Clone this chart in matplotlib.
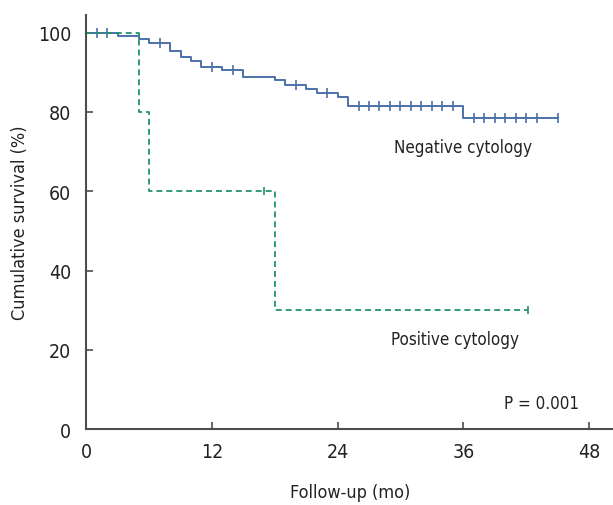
import numpy as np
import matplotlib
matplotlib.use("Agg")
import matplotlib.pyplot as plt
from matplotlib import font_manager

# ---- data ----
neg_times = [0, 3, 5, 6, 8, 9, 10, 11, 13, 15, 18, 19, 21, 22, 24, 25, 36, 45]
neg_surv = [100, 99.2, 98.5, 97.5, 95.3, 93.9, 92.9, 91.4, 90.6, 88.9, 88.1,
            86.8, 85.8, 84.8, 83.8, 81.5, 78.4, 78.4]
neg_censor = [1, 2, 7, 12, 14, 20, 23, 26, 27, 28, 29, 30, 31, 32, 33, 34, 35,
              37, 38, 39, 40, 41, 42, 43, 45]

pos_times = [0, 5, 6, 18, 42.2]
pos_surv = [100, 80, 60, 30, 30]
pos_censor = [17, 42.2]

x_ticks = [0, 12, 24, 36, 48]
y_ticks = [0, 20, 40, 60, 80, 100]

# ---- font: prefer a condensed sans ----
cands = []
for f in font_manager.fontManager.ttflist:
    fn = f.fname.lower()
    if ('narrow' in fn or 'condensed' in fn) and f.style == 'normal' \
            and f.weight in (400, 'normal', 'regular') and 'mono' not in fn \
            and 'serif' not in fn.replace('sans', '') and 'bold' not in fn:
        cands.append(f)
if cands:
    f0 = sorted(cands, key=lambda f: (0 if 'liberation' in f.fname.lower() else 1, f.fname))[0]
    plt.rcParams['font.family'] = [f0.name, "DejaVu Sans"]
    plt.rcParams['font.stretch'] = f0.stretch
else:
    plt.rcParams['font.family'] = ["Liberation Sans", "DejaVu Sans"]

blue = "#4b70a8"
green = "#22926a"
axc = "#4d4d4d"
txt = "#222222"

fig = plt.figure(figsize=(6.13, 5.06), dpi=100)
ax = fig.add_axes([0.1408, 0.150, 0.8592, 0.818])


def surv_at(times, surv, t):
    idx = np.searchsorted(times, t, side='right') - 1
    return np.asarray(surv)[idx]


ax.step(neg_times, neg_surv, where='post', color=blue, lw=1.4)
ax.plot(neg_censor, surv_at(neg_times, neg_surv, neg_censor), ls='none',
        marker='|', ms=7, mew=1.2, color=blue)

ax.step(pos_times, pos_surv, where='post', color=green, lw=1.3,
        dashes=(3.3, 2.2))
ax.plot(pos_censor, surv_at(pos_times, pos_surv, pos_censor), ls='none',
        marker='|', ms=6, mew=1.2, color=green)

ax.set_xlim(0, 50.3)
ax.set_ylim(0, 104.4)
ax.set_xticks(x_ticks)
ax.set_yticks(y_ticks)
for s in ['top', 'right']:
    ax.spines[s].set_visible(False)
for s in ['left', 'bottom']:
    ax.spines[s].set_color(axc)
    ax.spines[s].set_linewidth(1.5)
ax.tick_params(direction='in', length=5, width=1.2, color=axc,
               labelsize=14, labelcolor=txt, pad=9)
ax.tick_params(axis='y', pad=11)

ax.set_xlabel("Follow-up (mo)", fontsize=13, color=txt, labelpad=16)
ax.set_ylabel("Cumulative survival (%)", fontsize=13, color=txt, labelpad=6)

ax.text(35.95, 71.1, "Negative cytology", fontsize=12.2, color=txt,
        ha='center', va='center')
ax.text(35.2, 22.7, "Positive cytology", fontsize=12.2, color=txt,
        ha='center', va='center')
ax.text(43.5, 6.6, "P = 0.001", fontsize=12.2, color=txt,
        ha='center', va='center')

fig.savefig("out.png", dpi=100)
